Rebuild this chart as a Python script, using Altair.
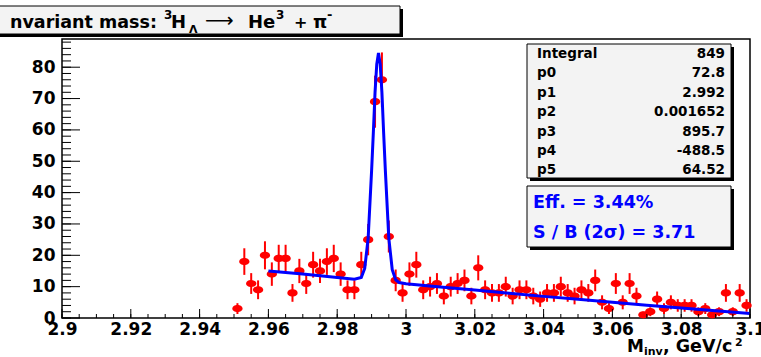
import altair as alt
import pandas as pd

# ---------------- data ----------------
bin_width = 0.002
bin_centers = [round(2.951 + bin_width * k, 3) for k in range(75)]
counts = [3, 18, 11, 9, 20, 14, 19, 19, 8, 15, 11, 17, 15, 18, 19, 14, 9, 9, 17, 25,
          69, 76, 26,
          12, 8, 14, 17, 9, 10, 11, 7, 10, 11, 12, 7, 16, 9, 8, 8, 10,
          7, 9, 9, 7, 6, 8, 8, 10, 8, 7, 9, 8, 12, 5, 3, 11, 5, 11,
          7, 1, 2, 6, 3, 5, 4, 4, 4, 2, 3, 1, 2, 8, 2, 8, 4]

fit_x = [2.960, 2.965, 2.970, 2.975, 2.980, 2.985, 2.987, 2.988, 2.989, 2.990,
         2.9905, 2.991, 2.9915, 2.992, 2.9925, 2.993, 2.9935, 2.994, 2.995, 2.996,
         2.997, 2.998, 3.000, 3.010, 3.020, 3.030, 3.040, 3.050, 3.060, 3.070,
         3.080, 3.090, 3.100]
fit_y = [15.0, 14.5, 14.0, 13.5, 12.9, 12.4, 12.9, 15.8, 25.5, 47,
         59, 72, 81, 84.5, 81, 72, 59, 47, 25.5, 15.4,
         12.2, 11.3, 10.9, 9.9, 8.9, 7.9, 6.9, 6.0, 5.0, 4.1,
         3.2, 2.3, 1.4]

x_major = [2.90, 2.92, 2.94, 2.96, 2.98, 3.00, 3.02, 3.04, 3.06, 3.08, 3.10]
x_minor = [round(2.9 + 0.005 * i, 3) for i in range(41)]
y_major = [0, 10, 20, 30, 40, 50, 60, 70, 80]
y_minor = [2 * i for i in range(45)]

stat_names = ["Integral", "p0", "p1", "p2", "p3", "p4", "p5"]
stat_values = ["849", "72.8", "2.992", "0.001652", "895.7", "-488.5", "64.52"]
eff_lines = ["Eff. = 3.44%", "S / B (2\u03c3) = 3.71"]

# ---------------- layout ----------------
W, H = 688, 279
FONT = "DejaVu Sans"
RED = "#ff0000"
BLUE = "#0000ff"
BOXFILL = "#f3f3f3"

hist = pd.DataFrame({"m": bin_centers, "n": counts})
fit = pd.DataFrame({"m": fit_x, "f": fit_y})
one = pd.DataFrame({"d": [0]})
stats = pd.DataFrame({"name": stat_names, "val": stat_values, "i": list(range(len(stat_names)))})
effs = pd.DataFrame({"t": eff_lines, "i": [0, 1]})

xs = alt.Scale(domain=[2.9, 3.1], nice=False, zero=False)
ys = alt.Scale(domain=[0, 89], nice=False, zero=False)

x_main_axis = alt.Axis(orient="bottom", values=x_major, format=".2~f", ticks=False, domain=False,
                       grid=False, title=None, labelFont=FONT, labelFontSize=17,
                       labelFontWeight="bold", labelColor="black", labelPadding=3,
                       labelFlush=False, labelOverlap=False)
y_main_axis = alt.Axis(orient="left", values=y_major, ticks=False, domain=False, grid=False,
                       title=None, labelFont=FONT, labelFontSize=17, labelFontWeight="bold",
                       labelColor="black", labelPadding=7, labelFlush=False, labelOverlap=False)

errbars = alt.Chart(hist).transform_calculate(
    lo="max(0, datum.n - sqrt(datum.n))", hi="datum.n + sqrt(datum.n)"
).mark_rule(color=RED, strokeWidth=2).encode(
    x=alt.X("m:Q", scale=xs, axis=x_main_axis),
    y=alt.Y("lo:Q", scale=ys, axis=y_main_axis),
    y2="hi:Q",
)

ellipse = "M -1.43 0 A 1.43 1 0 1 0 1.43 0 A 1.43 1 0 1 0 -1.43 0 Z"
dots = alt.Chart(hist).mark_point(shape=ellipse, filled=True, size=52, color=RED, opacity=1).encode(
    x=alt.X("m:Q", scale=xs, axis=None),
    y=alt.Y("n:Q", scale=ys, axis=None),
)

curve = alt.Chart(fit).mark_line(color=BLUE, strokeWidth=3, clip=True).encode(
    x=alt.X("m:Q", scale=xs, axis=None),
    y=alt.Y("f:Q", scale=ys, axis=None),
)


# inward-pointing ROOT-style ticks, placed through the axis scales
def xticks(vals, size):
    return alt.Chart(pd.DataFrame({"v": vals})).mark_rule(color="black", strokeWidth=1).encode(
        x=alt.X("v:Q", scale=xs, axis=None),
        y=alt.value(H), y2=alt.value(H - size),
    )


def yticks(vals, size):
    return alt.Chart(pd.DataFrame({"v": vals})).mark_rule(color="black", strokeWidth=1).encode(
        y=alt.Y("v:Q", scale=ys, axis=None),
        x=alt.value(0), x2=alt.value(size),
    )


def box(x1, x2, y1, y2, fill, stroke=None):
    kw = dict(fill=fill)
    if stroke:
        kw.update(stroke=stroke, strokeWidth=1)
    return alt.Chart(one).mark_rect(**kw).encode(
        x=alt.value(x1), x2=alt.value(x2), y=alt.value(y1), y2=alt.value(y2))


def txt(s, x, y, size, align="left", weight="bold", color="black", font=FONT, baseline="alphabetic"):
    return alt.Chart(one).mark_text(text=s, align=align, baseline=baseline, font=font,
                                    fontSize=size, fontWeight=weight, color=color).encode(
        x=alt.value(x), y=alt.value(y))


# stats boxes
stats_layers = [
    box(468, 672, 8, 142, "black"),
    box(465, 669, 5, 139, BOXFILL, "black"),
    box(468, 672, 150, 211, "black"),
    box(465, 669, 147, 208, BOXFILL, "black"),
    alt.Chart(stats).transform_calculate(py="15 + datum.i * 19.4").mark_text(
        align="left", baseline="middle", font=FONT, fontSize=13.5, fontWeight="bold", color="black"
    ).encode(x=alt.value(475), y=alt.Y("py:Q", scale=None, axis=None), text="name:N"),
    alt.Chart(stats).transform_calculate(py="15 + datum.i * 19.4").mark_text(
        align="right", baseline="middle", font=FONT, fontSize=13.5, fontWeight="bold", color="black"
    ).encode(x=alt.value(663), y=alt.Y("py:Q", scale=None, axis=None), text="val:N"),
    alt.Chart(effs).transform_calculate(py="164 + datum.i * 30").mark_text(
        align="left", baseline="middle", font=FONT, fontSize=17.5, fontWeight="bold", color=BLUE
    ).encode(x=alt.value(471), y=alt.Y("py:Q", scale=None, axis=None), text="t:N"),
]

# title box (above the frame)
title_layers = [
    box(-67, 341, -30, -2, "black"),
    box(-70, 338, -33, -5, BOXFILL, "black"),
    txt("nvariant mass:", -52, -11, 17.5),
    txt("3", 102, -20, 12),
    txt("H", 109, -11, 18),
    txt("\u039b", 127, -6, 11),
    txt("\u27f6", 143, -12, 20, weight="normal"),
    txt("He", 186, -11, 18),
    txt("3", 214, -20, 12),
    txt("+", 232, -11, 16),
    txt("\u03c0", 251, -11, 18),
    txt("-", 265, -20, 13),
]

# x-axis title  M_inv, GeV/c^2
xtitle_layers = [
    txt("M", 565, 313, 17),
    txt("inv", 582, 315.5, 11),
    txt(", GeV/c", 601, 313, 17.5),
    txt("2", 673, 306.5, 11),
]

chart = alt.layer(
    errbars, dots, curve,
    xticks(x_minor, 4), xticks(x_major, 9),
    yticks(y_minor, 9), yticks(y_major, 18),
    *stats_layers, *title_layers, *xtitle_layers,
).resolve_axis(x="independent", y="independent").properties(
    width=W, height=H,
    autosize=alt.AutoSizeParams(type="none"),
    padding={"left": 62, "top": 39, "right": 11, "bottom": 39},
    background="white",
).configure_view(stroke="black", strokeWidth=1.5)

chart.save("out.html", embed_options={"renderer": "svg", "actions": False})
